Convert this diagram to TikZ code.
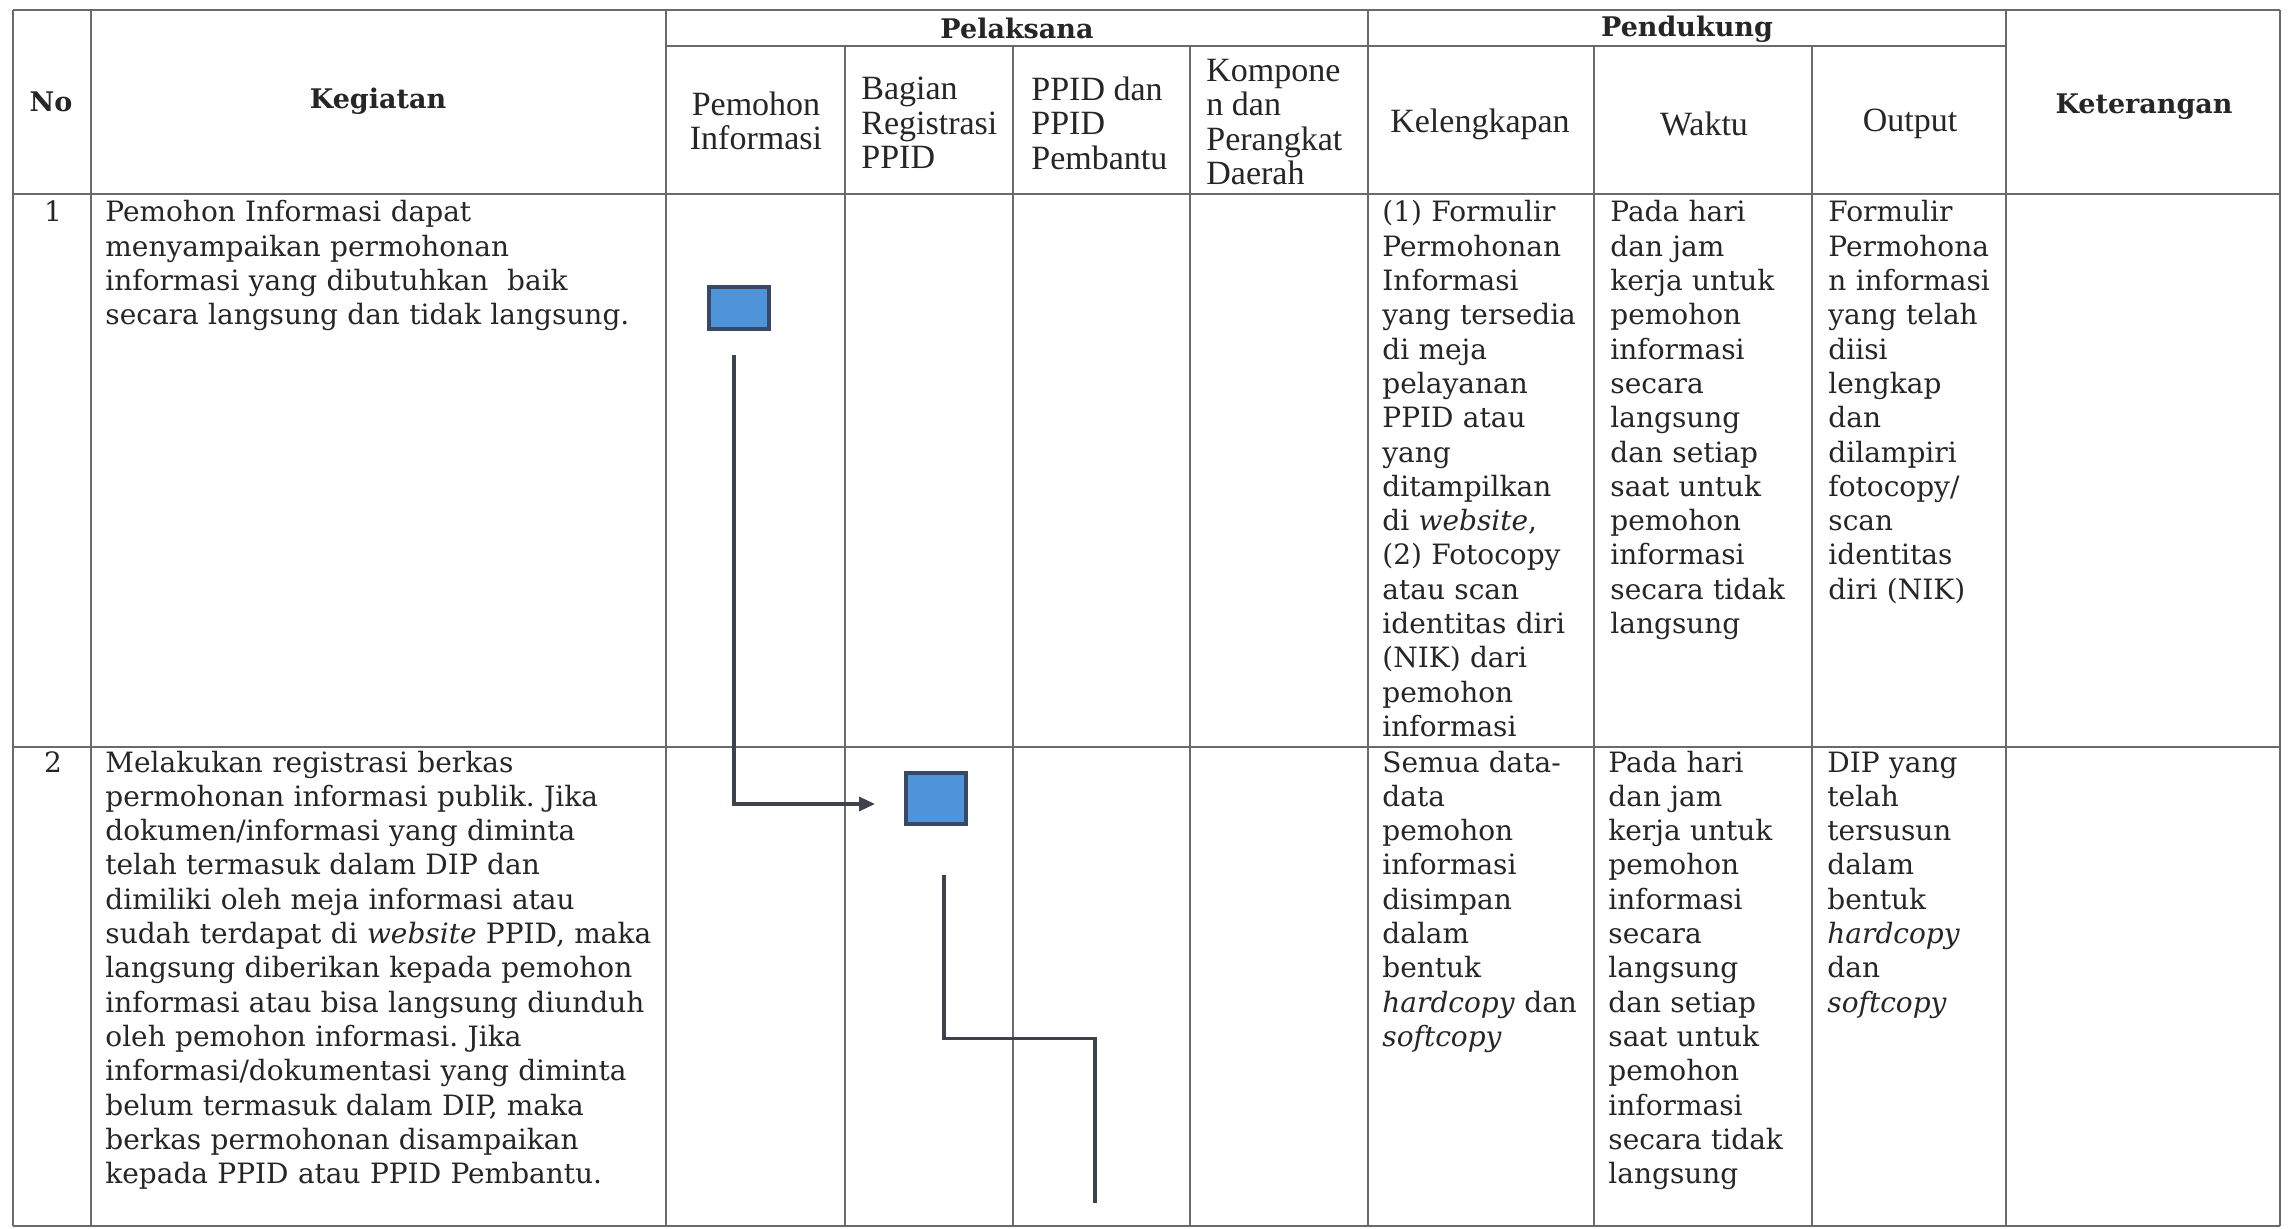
\documentclass[tikz,border=0pt]{standalone}
\usepackage{fontspec}
\setmainfont{DejaVu Serif}
\newfontfamily\subhfam{Liberation Serif}
\usetikzlibrary{arrows.meta}
\frenchspacing

\definecolor{ink}{HTML}{262626}
\definecolor{rulegray}{HTML}{6A6A6A}
\definecolor{boxfill}{HTML}{4F94D8}
\definecolor{boxedge}{HTML}{3A4868}
\definecolor{flowline}{HTML}{3E424B}

\newcommand{\bodyfont}{\fontsize{14}{17.15}\selectfont}
\newcommand{\subhfont}{\subhfam\fontsize{17}{17.3}\selectfont}
\newcommand{\headfont}{\fontsize{13.5}{17}\selectfont\bfseries}

\begin{document}
\begin{tikzpicture}[x=0.5pt,y=-0.5pt,
  gridline/.style={draw=rulegray,line width=0.8pt},
  cell/.style={anchor=base west,inner sep=0pt,text width=330pt,align=left,font=\bodyfont,text=ink},
  numcell/.style={anchor=base,inner sep=0pt,font=\bodyfont,text=ink},
  head/.style={inner sep=0pt,font=\headfont,text=ink},
  subhead/.style={inner sep=0pt,font=\subhfont,text=ink},
  actbox/.style={draw=boxedge,fill=boxfill,line width=2pt,minimum width=30pt,inner sep=0pt},
  flow/.style={draw=flowline,line width=1.7pt}
]
\useasboundingbox (0,0) rectangle (2289,1229);
\fill[white] (0,0) rectangle (2289,1229);

% ---- table rules ----
% outer frame and row separators
\draw[gridline] (13,10) -- (2280,10);
\draw[gridline] (666,46) -- (2006,46);
\draw[gridline] (13,194) -- (2280,194);
\draw[gridline] (13,747) -- (2280,747);
\draw[gridline] (13,1226) -- (2280,1226);
% full-height column rules
\foreach \cx in {13,91,666,1368,2006,2280}
  \draw[gridline] (\cx,10) -- (\cx,1226);
% sub-column rules below the group headings
\foreach \cx in {845,1013,1190,1594,1812}
  \draw[gridline] (\cx,46) -- (\cx,1226);

% ---- headings ----
\node[head] (hNo) at (51,102) {No};
\node[head] (hKeg) at (378,101) {Kegiatan};
\node[head] (hPel) at (1017,28) {Pelaksana};
\node[head] (hPen) at (1687,29) {Pendukung};
\node[head] (hKet) at (2144,107) {Keterangan};

\node[subhead,align=center] (sPem) at (756,121) {Pemohon\\Informasi};
\node[subhead,align=left,anchor=west] (sBag) at (861,123) {Bagian\\Registrasi\\PPID};
\node[subhead,align=left,anchor=west] (sPPID) at (1031,123) {PPID dan\\PPID\\Pembantu};
\node[subhead,align=left,anchor=west] (sKomp) at (1206,122) {Kompone\\n dan\\Perangkat\\Daerah};
\node[subhead] (sKel) at (1480,124) {Kelengkapan};
\node[subhead] (sWak) at (1704,124) {Waktu};
\node[subhead] (sOut) at (1910,124) {Output};

% ---- row 1 ----
\node[numcell] (n1) at (53,222) {1};
\node[cell] (k1) at (105,222) {Pemohon Informasi dapat\\
menyampaikan permohonan\\
informasi yang dibutuhkan~ baik\\
secara langsung dan tidak langsung.};
\node[cell] (l1) at (1382,222) {(1) Formulir\\
Permohonan\\
Informasi\\
yang tersedia\\
di meja\\
pelayanan\\
PPID atau\\
yang\\
ditampilkan\\
di \textit{website},\\
(2) Fotocopy\\
atau scan\\
identitas diri\\
(NIK) dari\\
pemohon\\
informasi};
\node[cell] (w1) at (1610,222) {Pada hari\\
dan jam\\
kerja untuk\\
pemohon\\
informasi\\
secara\\
langsung\\
dan setiap\\
saat untuk\\
pemohon\\
informasi\\
secara tidak\\
langsung};
\node[cell] (o1) at (1828,222) {Formulir\\
Permohona\\
n informasi\\
yang telah\\
diisi\\
lengkap\\
dan\\
dilampiri\\
fotocopy/\\
scan\\
identitas\\
diri (NIK)};

% ---- row 2 ----
\node[numcell] (n2) at (53,772) {2};
\node[cell] (k2) at (105,772) {Melakukan registrasi berkas\\
permohonan informasi publik. Jika\\
dokumen/informasi yang diminta\\
telah termasuk dalam DIP dan\\
dimiliki oleh meja informasi atau\\
sudah terdapat di \textit{website} PPID, maka\\
langsung diberikan kepada pemohon\\
informasi atau bisa langsung diunduh\\
oleh pemohon informasi. Jika\\
informasi/dokumentasi yang diminta\\
belum termasuk dalam DIP, maka\\
berkas permohonan disampaikan\\
kepada PPID atau PPID Pembantu.};
\node[cell] (l2) at (1382,772) {Semua data-\\
data\\
pemohon\\
informasi\\
disimpan\\
dalam\\
bentuk\\
\textit{hardcopy} dan\\
\textit{softcopy}};
\node[cell] (w2) at (1608,772) {Pada hari\\
dan jam\\
kerja untuk\\
pemohon\\
informasi\\
secara\\
langsung\\
dan setiap\\
saat untuk\\
pemohon\\
informasi\\
secara tidak\\
langsung};
\node[cell] (o2) at (1827,772) {DIP yang\\
telah\\
tersusun\\
dalam\\
bentuk\\
\textit{hardcopy}\\
dan\\
\textit{softcopy}};

% ---- flow symbols ----
\node[actbox,minimum height=21pt] (b1) at (739,308) {};
\node[actbox,minimum height=25.5pt] (b2) at (936,798) {};

\coordinate (f1s) at ([shift={(-5,24)}]b1.south);
\coordinate (f1e) at ([shift={(-29,6)}]b2.west);
\draw[flow,-{Triangle[length=8pt,width=7pt]}] (f1s) |- (f1e);

\coordinate (f2s) at ([shift={(8,49)}]b2.south);
\coordinate (f2e) at (1095,1203);
\draw[flow] (f2s) -- ++(0,164) -| (f2e);
\end{tikzpicture}
\end{document}
